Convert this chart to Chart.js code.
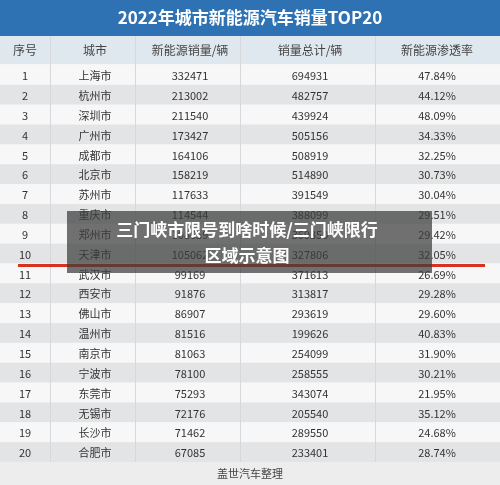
<!DOCTYPE html>
<html><head><meta charset="utf-8">
<script src="https://cdn.jsdelivr.net/npm/chart.js@4"></script>
<style>body{margin:0;background:#fff}canvas{display:block}</style>
</head><body>
<canvas id="c" width="500" height="485"></canvas>
<script>
const title = '2022年城市新能源汽车销量TOP20';
const headers = ['序号', '城市', '新能源销量/辆', '销量总计/辆', '新能源渗透率'];
const ranks = ['1','2','3','4','5','6','7','8','9','10','11','12','13','14','15','16','17','18','19','20'];
const cities = ['上海市','杭州市','深圳市','广州市','成都市','北京市','苏州市','重庆市','郑州市','天津市','武汉市','西安市','佛山市','温州市','南京市','宁波市','东莞市','无锡市','长沙市','合肥市'];
const nevSales = [332471,213002,211540,173427,164106,158219,117633,114544,108659,105062,99169,91876,86907,81516,81063,78100,75293,72176,71462,67085];
const totalSales = [694931,482757,439924,505156,508919,514890,391549,388099,369350,327806,371613,313817,293619,199626,254099,258555,343074,205540,289550,233401];
const shares = ['47.84%','44.12%','48.09%','34.33%','32.25%','30.73%','30.04%','29.51%','29.42%','32.05%','26.69%','29.28%','29.60%','40.83%','31.90%','30.21%','21.95%','35.12%','24.68%','28.74%'];
const colX = [25, 95, 190, 310, 437];
const font = '"Noto Sans CJK SC", sans-serif';

const tablePlugin = {
  id: 'table',
  beforeDraw(chart) {
    const c = chart.ctx, x = chart.scales.x, y = chart.scales.y;
    const h = Math.abs(y.getPixelForValue(1) - y.getPixelForValue(0));
    c.save();
    c.fillStyle = '#f4f5f7'; c.fillRect(0, 0, 500, 485);
    // title band
    c.fillStyle = '#2e72b4'; c.fillRect(0, 0, 500, 36);
    c.fillStyle = '#fff'; c.font = 'bold 17px ' + font;
    c.textAlign = 'center'; c.textBaseline = 'middle';
    c.fillText(title, 250, 18);
    // header
    c.fillStyle = '#dfe7ef'; c.fillRect(0, 36, 500, 28);
    c.fillStyle = '#444'; c.font = '12px ' + font;
    headers.forEach((t, j) => c.fillText(t, x.getPixelForValue(colX[j]), 50));
    // rows
    ranks.forEach((r, i) => {
      const cy = y.getPixelForValue(i);
      c.fillStyle = i % 2 ? '#e3e4e6' : '#f7f7f8';
      c.fillRect(0, cy - h / 2, 500, h);
      const vals = [r, cities[i], nevSales[i], totalSales[i], shares[i]];
      c.fillStyle = '#333'; c.font = '11px ' + font;
      vals.forEach((v, j) => c.fillText(String(v), x.getPixelForValue(colX[j]), cy + 1));
    });
    // column separators
    c.strokeStyle = '#d6d8db'; c.lineWidth = 1;
    [50, 135, 240, 375].forEach(v => {
      const px = Math.round(x.getPixelForValue(v)) + 0.5;
      c.beginPath(); c.moveTo(px, 36); c.lineTo(px, chart.chartArea.bottom); c.stroke();
    });
    // footer
    c.fillStyle = '#ededee'; c.fillRect(0, chart.chartArea.bottom, 500, 485 - chart.chartArea.bottom);
    c.fillStyle = '#444'; c.font = '11px ' + font;
    c.fillText('盖世汽车整理', 250, (chart.chartArea.bottom + 485) / 2);
    // red underline on row 10
    const ry = y.getPixelForValue(9) + h / 2 + 2;
    c.strokeStyle = '#d8321e'; c.lineWidth = 3;
    c.beginPath(); c.moveTo(18, ry); c.lineTo(485, ry); c.stroke();
    // overlay caption
    c.fillStyle = 'rgba(60,60,60,0.72)';
    c.fillRect(67, 211, 365, 62);
    c.fillStyle = '#fff'; c.font = 'bold 17px ' + font;
    c.fillText('三门峡市限号到啥时候/三门峡限行', 247, 230);
    c.fillText('区域示意图', 247, 256);
    c.restore();
  }
};

new Chart(document.getElementById('c'), {
  type: 'bar',
  data: { labels: ranks, datasets: [{ data: [], backgroundColor: 'transparent' }] },
  plugins: [tablePlugin],
  options: {
    responsive: false, animation: false, indexAxis: 'y',
    layout: { padding: { top: 65, bottom: 23, left: 0, right: 0 } },
    plugins: { legend: { display: false }, tooltip: { enabled: false } },
    scales: {
      x: { type: 'linear', min: 0, max: 500, display: false },
      y: { type: 'category', offset: true, display: false }
    }
  }
});
</script>
</body></html>
